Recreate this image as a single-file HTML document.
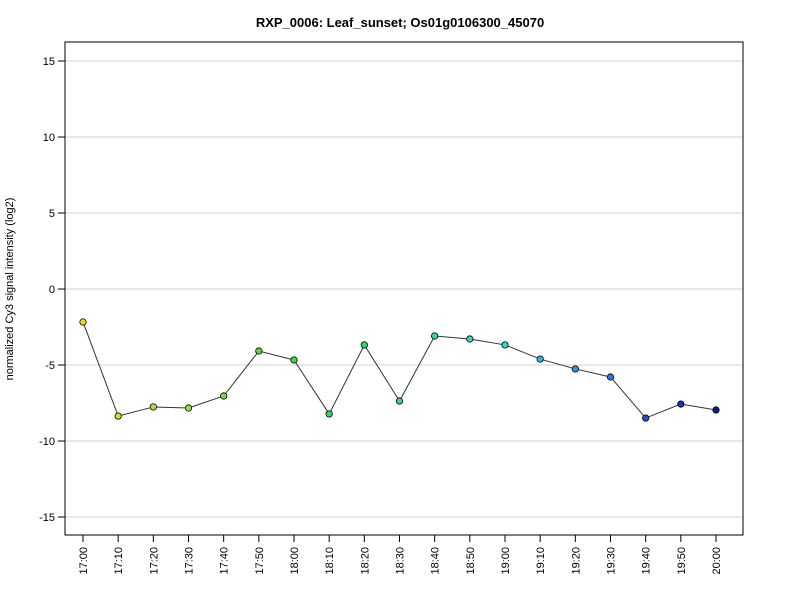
<!DOCTYPE html>
<html><head><meta charset="utf-8"><style>
body{margin:0;background:#fff}
svg text{font-family:"Liberation Sans",Arial,sans-serif}
</style></head><body>
<svg id="chart" width="800" height="600">
<text x="400" y="27" text-anchor="middle" font-size="13" font-weight="bold">RXP_0006: Leaf_sunset; Os01g0106300_45070</text>
<text transform="translate(13,289) rotate(-90)" text-anchor="middle" font-size="11">normalized Cy3 signal intensity (log2)</text>
<g id="grid"></g><g id="axes"></g><g id="series"></g>
<rect x="65" y="42" width="678" height="493" fill="none" stroke="#000"/>
</svg>
<script>
const categories=["17:00","17:10","17:20","17:30","17:40","17:50","18:00","18:10","18:20","18:30","18:40","18:50","19:00","19:10","19:20","19:30","19:40","19:50","20:00"];
const values=[-2.17,-8.36,-7.76,-7.83,-7.04,-4.08,-4.67,-8.22,-3.68,-7.37,-3.09,-3.29,-3.68,-4.61,-5.26,-5.79,-8.49,-7.57,-7.96];
const pointColors=["#e0e020","#c8e030","#b0e03a","#9ce03a","#7fd83a","#5ad83a","#3cd84a","#2ed860","#2ed872","#2ed890","#2ed8a8","#2ed8c0","#2ed8d8","#28b8e0","#2898e0","#2878e0","#2050d0","#1c30b8","#101890"];
const yTicks=[-15,-10,-5,0,5,10,15];
const NS="http://www.w3.org/2000/svg";
const xs=i=>83+i*(716-83)/(categories.length-1);
const ys=v=>289-v*15.2;
const grid=document.getElementById('grid'),axes=document.getElementById('axes'),ser=document.getElementById('series');
function mk(tag,attrs,parent){const e=document.createElementNS(NS,tag);for(const k in attrs)e.setAttribute(k,attrs[k]);parent.appendChild(e);return e;}
yTicks.forEach(t=>{
 const g=mk('line',{x1:65,x2:743,y1:ys(t),y2:ys(t),stroke:'#d0d0d0'},grid);
 
 
 const tk=mk('line',{x1:58,x2:65,y1:ys(t),y2:ys(t),stroke:'#000'},axes);
 
 
 const lb=mk('text',{x:55,y:ys(t)+4,'text-anchor':'end','font-size':11},axes);lb.textContent=t;
 
 
});
categories.forEach((c,i)=>{
 const tk=mk('line',{x1:xs(i),x2:xs(i),y1:535,y2:542,stroke:'#000'},axes);
 
 
 const lb=mk('text',{transform:`translate(${xs(i)+4},547) rotate(-90)`,'text-anchor':'end','font-size':11},axes);lb.textContent=c;
 
 
});
const pl=mk('polyline',{points:values.map((v,i)=>xs(i)+','+ys(v)).join(' '),fill:'none',stroke:'#333','stroke-width':1},ser);


values.forEach((v,i)=>{
 const p=mk('circle',{cx:xs(i),cy:ys(v),r:3.2,fill:pointColors[i],stroke:'#000','stroke-width':0.8},ser);
 
 
});
</script>
</body></html>
